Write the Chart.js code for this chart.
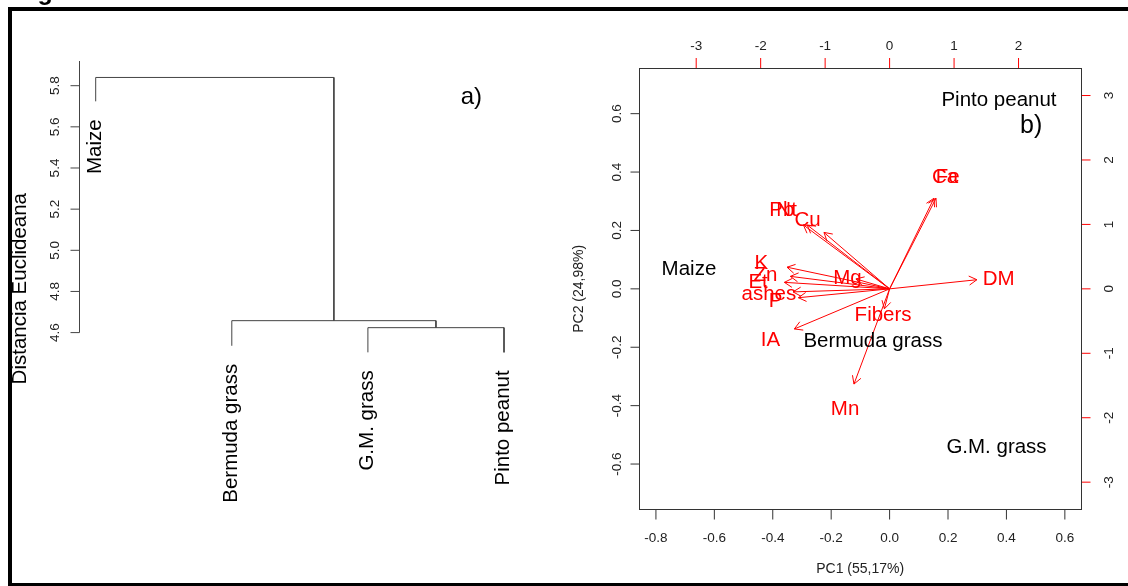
<!DOCTYPE html>
<html>
<head>
<meta charset="utf-8">
<script src="https://cdn.jsdelivr.net/npm/chart.js@4.4.1/dist/chart.umd.min.js"></script>
<style>
  html, body { margin: 0; padding: 0; background: #fff; }
  #wrap { position: relative; width: 1128px; height: 586px; overflow: hidden; background: #fff; }
  #wrap canvas { position: absolute; left: 0; top: 0; }
  .rule { position: absolute; background: #000; }
</style>
</head>
<body>
<div id="wrap">
  <canvas id="dendro" width="1128" height="586"></canvas>
  <canvas id="biplot" width="1128" height="586"></canvas>
  <div class="rule" style="left:8px;top:7px;width:1120px;height:4px"></div>
  <div class="rule" style="left:8px;top:7px;width:4px;height:579px"></div>
  <div class="rule" style="left:8px;top:583px;width:1120px;height:3px"></div>
</div>
<script>
// ---- a) cluster dendrogram ----
const leafNames    = ['Maize', 'Bermuda grass', 'G.M. grass', 'Pinto peanut'];
const leafEnds     = [5.724, 4.536, 4.504, 4.504];
const merges       = [[-3, -4], [-2, 1], [-1, 2]];   // hclust style: negative = leaf
const mergeHeights = [4.624, 4.658, 5.840];
const heightTicks  = [4.6, 4.8, 5.0, 5.2, 5.4, 5.6, 5.8];

// ---- b) PCA biplot ----
const sampleNames = ['Pinto peanut', 'Maize', 'Bermuda grass', 'G.M. grass'];
const samplePC1   = [0.3745, -0.687, -0.057, 0.366];
const samplePC2   = [0.650, 0.0716, -0.175, -0.538];

const varNames = ['Ca', 'Fe', 'Pb', 'Nt', 'Cu', 'K', 'Zn', 'Et', 'ashes', 'P', 'Mg', 'DM', 'Fibers', 'IA', 'Mn'];
const varPC1   = [0.86, 0.90, -1.671, -1.598, -1.273, -1.989, -1.924, -2.04, -1.873, -1.769, -0.653, 1.693, -0.101, -1.847, -0.691];
const varPC2   = [1.757, 1.757, 1.239, 1.239, 1.095, 0.42, 0.242, 0.126, -0.059, -0.172, 0.192, 0.177, -0.388, -0.778, -1.847];
const arrowShare = 0.8;   // biplot draws arrows to 0.8 of the loading, label at the loading

const pc1Ticks   = [-0.8, -0.6, -0.4, -0.2, 0.0, 0.2, 0.4, 0.6];
const pc2Ticks   = [-0.6, -0.4, -0.2, 0.0, 0.2, 0.4, 0.6];
const loadXTicks = [-3, -2, -1, 0, 1, 2];
const loadYTicks = [-3, -2, -1, 0, 1, 2, 3];

const FACE = '"Liberation Sans", Arial, Helvetica, sans-serif';
const font = (px, w) => (w ? w + ' ' : '') + px + 'px ' + FACE;
const LABEL = 20.5, TICK = 13.5, TITLE = 14;
const RED = '#ff0000';

function vText(ctx, str, x, y, align) {
  ctx.save();
  ctx.translate(x, y);
  ctx.rotate(-Math.PI / 2);
  ctx.textAlign = align;
  ctx.fillText(str, 0, 0);
  ctx.restore();
}

// build dendrogram segments from the merge table
const nodes = [];
function nodeOf(id) {
  return id < 0 ? { x: -id, h: leafEnds[-id - 1] } : nodes[id - 1];
}
const dendroSets = merges.map(([a, b], k) => {
  const A = nodeOf(a), B = nodeOf(b), H = mergeHeights[k];
  nodes.push({ x: (A.x + B.x) / 2, h: H });
  return {
    data: [{ x: A.x, y: A.h }, { x: A.x, y: H }, { x: B.x, y: H }, { x: B.x, y: B.h }],
    showLine: true, borderColor: '#444', borderWidth: 1, pointRadius: 0, clip: false
  };
});

const dendroDecor = {
  id: 'dendroDecor',
  afterDraw(chart) {
    const { ctx, chartArea: ca, scales: { x, y } } = chart;
    ctx.save();
    // axis
    ctx.strokeStyle = '#444';
    ctx.lineWidth = 1;
    const ax = Math.round(ca.left) + 0.5;
    ctx.beginPath();
    ctx.moveTo(ax, ca.top);
    ctx.lineTo(ax, y.getPixelForValue(heightTicks[0]));
    heightTicks.forEach(v => {
      const py = y.getPixelForValue(v);
      ctx.moveTo(ax - 9, py);
      ctx.lineTo(ax, py);
    });
    ctx.stroke();
    ctx.fillStyle = '#222';
    ctx.font = font(TICK);
    heightTicks.forEach(v => vText(ctx, v.toFixed(1), ca.left - 20.5, y.getPixelForValue(v), 'center'));

    // leaf labels
    ctx.fillStyle = '#000';
    ctx.font = font(LABEL);
    leafNames.forEach((name, i) => {
      vText(ctx, name, x.getPixelForValue(i + 1) + 5, y.getPixelForValue(leafEnds[i]) + 18, 'right');
    });

    // axis title, panel tag, figure caption remnant
    vText(ctx, 'Distancia Euclideana', 25.7, 288.7, 'center');
    ctx.textAlign = 'left';
    ctx.font = font(24);
    ctx.fillText('a)', 460.7, 103.5);
    ctx.font = font(25, 'bold');
    ctx.fillText('Figure', 15.4, 0);
    ctx.restore();
  }
};

new Chart(document.getElementById('dendro'), {
  type: 'scatter',
  data: { datasets: dendroSets },
  options: {
    responsive: false, animation: false, devicePixelRatio: 1, events: [],
    layout: { padding: { left: 79, top: 61, right: 588, bottom: 253.4 } },
    plugins: { legend: { display: false }, tooltip: { enabled: false } },
    scales: {
      x: { type: 'linear', display: false, min: 0.8773, max: 4.2645 },
      y: { type: 'linear', display: false, min: 4.6, max: 5.92 }
    }
  },
  plugins: [dendroDecor]
});

// ---- biplot ----
const arrowSets = varNames.map((n, i) => ({
  label: n,
  data: [{ x: 0, y: 0 }, { x: varPC1[i] * arrowShare, y: varPC2[i] * arrowShare }],
  xAxisID: 'x2', yAxisID: 'y2',
  showLine: true, borderColor: RED, borderWidth: 1, pointRadius: 0
}));

const biplotDecor = {
  id: 'biplotDecor',
  afterDatasetsDraw(chart) {
    const ctx = chart.ctx;
    ctx.save();
    ctx.strokeStyle = RED;
    ctx.lineWidth = 1;
    chart.data.datasets.forEach((ds, di) => {
      if (di === 0) return;
      const pts = chart.getDatasetMeta(di).data;
      const a = pts[0], b = pts[1];
      const ang = Math.atan2(b.y - a.y, b.x - a.x);
      ctx.beginPath();
      [-1, 1].forEach(s => {
        ctx.moveTo(b.x, b.y);
        ctx.lineTo(b.x - 9 * Math.cos(ang + s * Math.PI / 6), b.y - 9 * Math.sin(ang + s * Math.PI / 6));
      });
      ctx.stroke();
    });
    ctx.restore();
  },
  afterDraw(chart) {
    const { ctx, chartArea: ca, scales } = chart;
    const L = Math.round(ca.left) + 0.5, R = Math.round(ca.right) + 0.5;
    const T = Math.round(ca.top) + 0.5, B = Math.round(ca.bottom) + 0.5;
    ctx.save();
    ctx.lineWidth = 1;

    // black axes (bottom / left)
    ctx.strokeStyle = '#333';
    ctx.beginPath();
    pc1Ticks.forEach(v => { const p = scales.x.getPixelForValue(v); ctx.moveTo(p, B); ctx.lineTo(p, B + 10); });
    pc2Ticks.forEach(v => { const p = scales.y.getPixelForValue(v); ctx.moveTo(L - 9, p); ctx.lineTo(L, p); });
    ctx.stroke();
    // red axes (top / right)
    ctx.strokeStyle = RED;
    ctx.beginPath();
    loadXTicks.forEach(v => { const p = scales.x2.getPixelForValue(v); ctx.moveTo(p, T - 10.5); ctx.lineTo(p, T); });
    loadYTicks.forEach(v => { const p = scales.y2.getPixelForValue(v); ctx.moveTo(R, p); ctx.lineTo(R + 9, p); });
    ctx.stroke();
    // box
    ctx.strokeStyle = '#333';
    ctx.strokeRect(L, T, R - L, B - T);

    // tick labels
    ctx.fillStyle = '#222';
    ctx.font = font(TICK);
    ctx.textAlign = 'center';
    pc1Ticks.forEach(v => ctx.fillText(v.toFixed(1), scales.x.getPixelForValue(v), ca.bottom + 32.2));
    loadXTicks.forEach(v => ctx.fillText(String(v), scales.x2.getPixelForValue(v), ca.top - 18.6));
    pc2Ticks.forEach(v => vText(ctx, v.toFixed(1), ca.left - 18.4, scales.y.getPixelForValue(v), 'center'));
    loadYTicks.forEach(v => vText(ctx, String(v), ca.right + 32, scales.y2.getPixelForValue(v), 'center'));

    // axis titles
    ctx.font = font(TITLE);
    ctx.fillText('PC1 (55,17%)', (ca.left + ca.right) / 2, ca.bottom + 63.3);
    vText(ctx, 'PC2 (24,98%)', ca.left - 56.3, (ca.top + ca.bottom) / 2, 'center');

    // variable labels (red) at the loadings
    const capShift = 0.358 * LABEL;
    ctx.font = font(LABEL);
    ctx.fillStyle = RED;
    varNames.forEach((n, i) => {
      ctx.fillText(n, scales.x2.getPixelForValue(varPC1[i]), scales.y2.getPixelForValue(varPC2[i]) + capShift);
    });
    // sample labels (black) at the scores
    ctx.fillStyle = '#000';
    chart.getDatasetMeta(0).data.forEach((pt, i) => {
      ctx.fillText(sampleNames[i], pt.x, pt.y + capShift);
    });

    ctx.textAlign = 'left';
    ctx.font = font(25);
    ctx.fillText('b)', 1020, 133);
    ctx.restore();
  }
};

new Chart(document.getElementById('biplot'), {
  type: 'scatter',
  data: {
    datasets: [
      { label: 'samples', data: samplePC1.map((v, i) => ({ x: v, y: samplePC2[i] })), pointRadius: 0 },
      ...arrowSets
    ]
  },
  options: {
    responsive: false, animation: false, devicePixelRatio: 1, events: [],
    layout: { padding: { left: 639.4, top: 68.4, right: 47, bottom: 76.7 } },
    plugins: { legend: { display: false }, tooltip: { enabled: false } },
    scales: {
      x:  { type: 'linear', display: false, min: -0.8566, max: 0.6553 },
      y:  { type: 'linear', display: false, min: -0.755, max: 0.755 },
      x2: { type: 'linear', display: false, min: -3.881, max: 2.969 },
      y2: { type: 'linear', display: false, min: -3.421, max: 3.421 }
    }
  },
  plugins: [biplotDecor]
});
</script>
</body>
</html>
